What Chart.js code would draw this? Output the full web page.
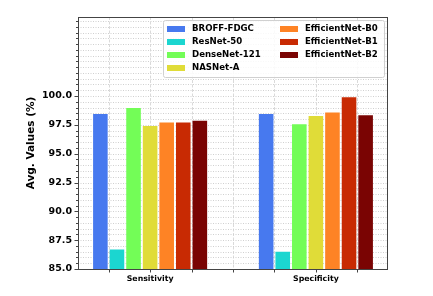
<!DOCTYPE html>
<html>
<head>
<meta charset="utf-8">
<script src="https://cdn.jsdelivr.net/npm/chart.js@4"></script>
<style>
  html, body { margin: 0; padding: 0; background: #fff; }
  #wrap { width: 433px; height: 296px; position: relative; }
</style>
</head>
<body>
<div id="wrap"><canvas id="chart"></canvas></div>
<script>
"use strict";

// ─── Data ──────────────────────────────────────────────────────────────────

const CATEGORIES = ["Sensitivity", "Specificity"];
const CATEGORY_X = [0, 1];

const MODELS = [
  "BROFF-FDGC", "ResNet-50", "DenseNet-121", "NASNet-A",
  "EfficientNet-B0", "EfficientNet-B1", "EfficientNet-B2",
];

const BROFF_FDGC      = [98.45, 98.45];
const RESNET_50       = [86.7, 86.5];
const DENSENET_121    = [98.95, 97.55];
const NASNET_A        = [97.4, 98.27];
const EFFICIENTNET_B0 = [97.7, 98.56];
const EFFICIENTNET_B1 = [97.7, 99.89];
const EFFICIENTNET_B2 = [97.85, 98.33];

const SERIES = [BROFF_FDGC, RESNET_50, DENSENET_121, NASNET_A,
                EFFICIENTNET_B0, EFFICIENTNET_B1, EFFICIENTNET_B2];

const COLORS = ["#4779ef", "#1bd6d0", "#73fd57", "#e0dc38",
                "#fe8325", "#c82a03", "#7a0403"];

const Y_TICKS = [85, 87.5, 90, 92.5, 95, 97.5, 100];
const Y_MIN = 85;
const Y_MAX = 106.85;
const X_MIN = -0.435;
const X_MAX = 1.435;
const X_GRID = [-0.25, 0, 0.25, 0.5, 0.75, 1, 1.25];

const FONT = "'DejaVu Sans', sans-serif";

// ─── Matplotlib-ish grid, frame and legend ─────────────────────────────────

const mplPlugin = {
  id: "mpl",
  beforeDatasetsDraw(chart) {
    const { ctx, chartArea: a, scales: { x, y } } = chart;
    ctx.save();
    ctx.beginPath();
    ctx.rect(a.left, a.top, a.right - a.left, a.bottom - a.top);
    ctx.clip();
    ctx.lineWidth = 0.8;
    // horizontal dotted lines every 0.5
    ctx.setLineDash([1, 1.5]);
    ctx.strokeStyle = "#c4c4c4";
    for (let i = 0; Y_MIN + i * 0.5 <= Y_MAX; i++) {
      const py = Math.round(y.getPixelForValue(Y_MIN + i * 0.5)) + 0.5;
      ctx.beginPath();
      ctx.moveTo(a.left, py);
      ctx.lineTo(a.right, py);
      ctx.stroke();
    }
    // vertical lines
    ctx.setLineDash([3, 1.5]);
    ctx.strokeStyle = "#d0d0d0";
    X_GRID.forEach((v) => {
      const px = Math.round(x.getPixelForValue(v)) + 0.5;
      ctx.beginPath();
      ctx.moveTo(px, a.top);
      ctx.lineTo(px, a.bottom);
      ctx.stroke();
    });
    ctx.restore();
  },
  afterDraw(chart) {
    const { ctx, chartArea: a, scales: { x, y } } = chart;
    ctx.save();
    ctx.strokeStyle = "#444";
    ctx.lineWidth = 1;
    // frame
    ctx.strokeRect(a.left + 0.5, a.top + 0.5, a.right - a.left - 1, a.bottom - a.top);
    // y tick marks
    for (let i = 0; Y_MIN + i * 0.5 <= Y_MAX; i++) {
      const py = Math.round(y.getPixelForValue(Y_MIN + i * 0.5)) + 0.5;
      const len = i % 5 === 0 && Y_MIN + i * 0.5 <= 100 ? 3.5 : 2;
      ctx.beginPath();
      ctx.moveTo(a.left, py);
      ctx.lineTo(a.left - len, py);
      ctx.stroke();
    }
    // x tick marks
    X_GRID.forEach((v) => {
      const px = Math.round(x.getPixelForValue(v)) + 0.5;
      ctx.beginPath();
      ctx.moveTo(px, a.bottom);
      ctx.lineTo(px, a.bottom + 3.5);
      ctx.stroke();
    });

    // legend, two columns
    const box = { left: 163, top: 20, right: 384, bottom: 77 };
    ctx.fillStyle = "rgba(255,255,255,0.85)";
    ctx.strokeStyle = "#d0d0d0";
    ctx.beginPath();
    ctx.roundRect(box.left + 0.5, box.top + 0.5, box.right - box.left, box.bottom - box.top, 2);
    ctx.fill();
    ctx.stroke();
    ctx.font = `bold 8.6px ${FONT}`;
    ctx.textBaseline = "middle";
    chart.data.datasets.forEach((ds, i) => {
      const col = i < 4 ? 0 : 1;
      const row = i < 4 ? i : i - 4;
      const sx = col === 0 ? 167 : 280;
      const cy = 29 + row * 13;
      ctx.fillStyle = ds.backgroundColor;
      ctx.fillRect(sx, cy - 3, 18, 6);
      ctx.fillStyle = "#000";
      ctx.fillText(ds.label, sx + 25, cy);
    });
    ctx.restore();
  },
};

// ─── Chart ─────────────────────────────────────────────────────────────────

new Chart(document.getElementById("chart").getContext("2d"), {
  type: "bar",
  data: {
    datasets: MODELS.map((name, i) => ({
      label: name,
      data: CATEGORY_X.map((cx, k) => ({ x: cx, y: SERIES[i][k] })),
      backgroundColor: COLORS[i],
      borderWidth: 0,
      categoryPercentage: 0.7,
      barPercentage: 0.88,
    })),
  },
  options: {
    animation: false,
    responsive: true,
    maintainAspectRatio: false,
    layout: { padding: { top: 17, right: 45, bottom: 0, left: 0 } },
    scales: {
      x: {
        type: "linear",
        min: X_MIN,
        max: X_MAX,
        offset: false,
        grid: { drawOnChartArea: false, drawTicks: false, offset: false },
        border: { display: false },
        afterBuildTicks: (s) => { s.ticks = CATEGORY_X.map((v) => ({ value: v })); },
        afterFit: (s) => { s.height = 27; },
        ticks: {
          autoSkip: false,
          maxRotation: 0,
          padding: 5,
          color: "#000",
          font: { family: FONT, size: 7.8, weight: "bold" },
          callback: (v, idx) => CATEGORIES[idx],
        },
      },
      y: {
        min: Y_MIN,
        max: Y_MAX,
        grid: { drawOnChartArea: false, drawTicks: false },
        border: { display: false },
        afterBuildTicks: (s) => { s.ticks = Y_TICKS.map((v) => ({ value: v })); },
        afterFit: (s) => { s.width = 78; },
        ticks: {
          padding: 6,
          color: "#000",
          font: { family: FONT, size: 9.5, weight: "bold" },
          callback: (v) => Number(v).toFixed(1),
        },
        title: {
          display: true,
          text: "Avg. Values (%)",
          color: "#000",
          font: { family: FONT, size: 10.5, weight: "bold" },
          padding: { top: 25, bottom: 0 },
        },
      },
    },
    plugins: {
      legend: { display: false },
      tooltip: { enabled: false },
    },
  },
  plugins: [mplPlugin],
});
</script>
</body>
</html>
